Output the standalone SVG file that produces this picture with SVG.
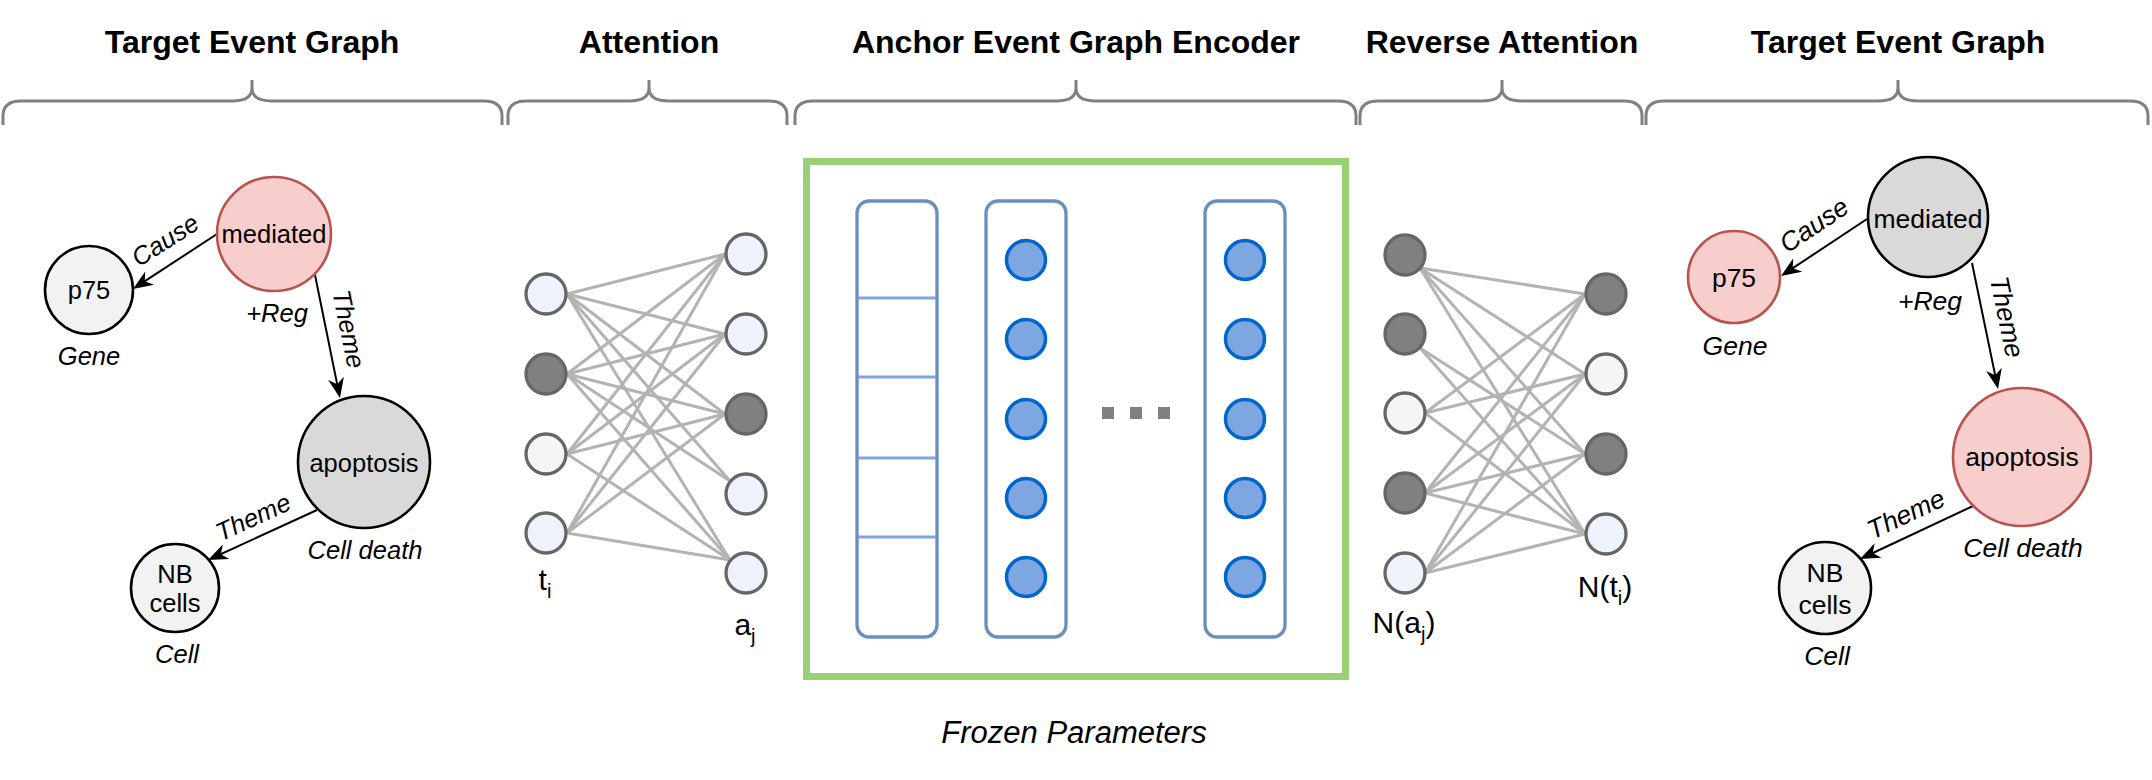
<svg xmlns="http://www.w3.org/2000/svg" width="2152" height="780" viewBox="0 0 2152 780">
<style>
text{font-family:"Liberation Sans",Arial,sans-serif;fill:#000}
.title{font-size:32px;font-weight:bold;text-anchor:middle}
.lbl{font-size:25.5px;text-anchor:middle}
.it{font-size:25.5px;font-style:italic;text-anchor:middle}
#right-graph-edges text,#r-mediated text,#r-p75 text,#r-apoptosis text,#r-nbcells text{font-size:26.5px}
.net{font-size:30px;text-anchor:middle}
.brace{fill:none;stroke:#808080;stroke-width:3}
.gn{stroke:#000;stroke-width:2.6}
.pink{fill:#f8cecc;stroke:#b85450;stroke-width:2.6}
.edge{fill:none;stroke:#000;stroke-width:2;marker-end:url(#arr)}
.nl{stroke:#b3b3b3;stroke-width:3;fill:none}
.nn{stroke:#666;stroke-width:3.3}
.lb{fill:#eef3fb}
.dk{fill:#808080}
.lg{fill:#f5f5f5}
.col{fill:#fff;stroke:#6c8ebf;stroke-width:3.3}
.div{stroke:#7ea6e0;stroke-width:3}
.neu{fill:#7ea6e0;stroke:#0066cc;stroke-width:3.5}
</style>
<defs>
<marker id="arr" viewBox="0 0 20 16" refX="14" refY="8" markerWidth="20" markerHeight="16" markerUnits="userSpaceOnUse" orient="auto">
<path d="M0,0 L20,8 L0,16 L6,8 Z" fill="#000"/>
</marker>
</defs>
<rect width="2152" height="780" fill="#fff"/>

<g id="headers">
<text class="title" x="252" y="53">Target Event Graph</text>
<text class="title" x="649" y="53">Attention</text>
<text class="title" x="1076" y="53">Anchor Event Graph Encoder</text>
<text class="title" x="1502" y="53">Reverse Attention</text>
<text class="title" x="1898" y="53">Target Event Graph</text>
<path class="brace" d="M3,125 V116 Q3,101 21,101 H232 Q252,101 252,88 V80 M252,88 Q252,101 272,101 H484 Q502,101 502,116 V125"/>
<path class="brace" d="M508,125 V116 Q508,101 526,101 H629 Q649,101 649,88 V80 M649,88 Q649,101 669,101 H769 Q787,101 787,116 V125"/>
<path class="brace" d="M795,125 V116 Q795,101 813,101 H1056 Q1076,101 1076,88 V80 M1076,88 Q1076,101 1096,101 H1338 Q1356,101 1356,116 V125"/>
<path class="brace" d="M1360,125 V116 Q1360,101 1378,101 H1482 Q1502,101 1502,88 V80 M1502,88 Q1502,101 1522,101 H1624 Q1642,101 1642,116 V125"/>
<path class="brace" d="M1646,125 V116 Q1646,101 1664,101 H1878 Q1898,101 1898,88 V80 M1898,88 Q1898,101 1918,101 H2130 Q2148,101 2148,116 V125"/>
</g>

<!-- Left target event graph -->
<g id="left-graph-edges">
<path class="edge" d="M217,234 L138,285.7"/>
<path class="edge" d="M315,275 L338.8,392.1"/>
<path class="edge" d="M317,510 L213.5,557.5"/>
<text class="it" transform="translate(165,240) rotate(-32.7)" x="0" y="9">Cause</text>
<text class="it" transform="translate(349,329) rotate(78.5)" x="0" y="9">Theme</text>
<text class="it" transform="translate(253,517) rotate(-24.6)" x="0" y="9">Theme</text>
</g>
<g id="l-mediated">
<circle class="pink" cx="274" cy="234" r="57"/>
<text class="lbl" x="274" y="243">mediated</text>
<text class="it" x="277" y="322">+Reg</text>
</g>
<g id="l-p75">
<circle class="gn" cx="89" cy="290" r="44" fill="#f2f2f2"/>
<text class="lbl" x="89" y="299">p75</text>
<text class="it" x="89" y="365">Gene</text>
</g>
<g id="l-apoptosis">
<circle class="gn" cx="364" cy="462" r="66" fill="#d9d9d9"/>
<text class="lbl" x="364" y="472">apoptosis</text>
<text class="it" x="365" y="559">Cell death</text>
</g>
<g id="l-nbcells">
<circle class="gn" cx="175" cy="588" r="44" fill="#f2f2f2"/>
<text class="lbl" x="175" y="583">NB</text>
<text class="lbl" x="175" y="612">cells</text>
<text class="it" x="177" y="663">Cell</text>
</g>

<!-- Attention -->
<g id="attention-links">
<line class="nl" x1="567" y1="294" x2="725" y2="254"/>
<line class="nl" x1="567" y1="294" x2="725" y2="334"/>
<line class="nl" x1="567" y1="294" x2="725" y2="414"/>
<line class="nl" x1="567" y1="294" x2="730" y2="481"/>
<line class="nl" x1="567" y1="294" x2="730" y2="560"/>
<line class="nl" x1="567" y1="374" x2="725" y2="254"/>
<line class="nl" x1="567" y1="374" x2="725" y2="334"/>
<line class="nl" x1="567" y1="374" x2="725" y2="414"/>
<line class="nl" x1="567" y1="374" x2="730" y2="481"/>
<line class="nl" x1="567" y1="374" x2="730" y2="560"/>
<line class="nl" x1="567" y1="454" x2="725" y2="254"/>
<line class="nl" x1="567" y1="454" x2="725" y2="334"/>
<line class="nl" x1="567" y1="454" x2="725" y2="414"/>
<line class="nl" x1="567" y1="454" x2="730" y2="560"/>
<line class="nl" x1="567" y1="533" x2="725" y2="254"/>
<line class="nl" x1="567" y1="533" x2="725" y2="334"/>
<line class="nl" x1="567" y1="533" x2="725" y2="414"/>
<line class="nl" x1="567" y1="533" x2="730" y2="560"/>
</g>
<g id="attention-nodes">
<circle class="nn lb" cx="546" cy="294" r="20"/>
<circle class="nn dk" cx="546" cy="374" r="20"/>
<circle class="nn lg" cx="546" cy="454" r="20"/>
<circle class="nn lb" cx="546" cy="533" r="20"/>
<circle class="nn lb" cx="746" cy="254" r="20"/>
<circle class="nn lb" cx="746" cy="334" r="20"/>
<circle class="nn dk" cx="746" cy="414" r="20"/>
<circle class="nn lb" cx="746" cy="494" r="20"/>
<circle class="nn lb" cx="746" cy="573" r="20"/>
<text class="net" x="545" y="590">t<tspan font-size="20" dy="8">i</tspan></text>
<text class="net" x="745" y="635">a<tspan font-size="20" dy="8">j</tspan></text>
</g>

<!-- Encoder -->
<g id="encoder">
<rect x="806.5" y="161.5" width="539" height="515" fill="none" stroke="#97d077" stroke-width="7"/>
<rect class="col" x="857" y="201" width="80" height="436" rx="12"/>
<line class="div" x1="858" y1="298" x2="936" y2="298"/>
<line class="div" x1="858" y1="377" x2="936" y2="377"/>
<line class="div" x1="858" y1="458" x2="936" y2="458"/>
<line class="div" x1="858" y1="537" x2="936" y2="537"/>
<rect class="col" x="986" y="201" width="80" height="436" rx="12"/>
<circle class="neu" cx="1026" cy="260" r="19.5"/>
<circle class="neu" cx="1026" cy="339" r="19.5"/>
<circle class="neu" cx="1026" cy="419" r="19.5"/>
<circle class="neu" cx="1026" cy="498" r="19.5"/>
<circle class="neu" cx="1026" cy="577" r="19.5"/>
<rect x="1102" y="407" width="12" height="12" fill="#808080"/>
<rect x="1130" y="407" width="12" height="12" fill="#808080"/>
<rect x="1158" y="407" width="12" height="12" fill="#808080"/>
<rect class="col" x="1205" y="201" width="80" height="436" rx="12"/>
<circle class="neu" cx="1245" cy="260" r="19.5"/>
<circle class="neu" cx="1245" cy="339" r="19.5"/>
<circle class="neu" cx="1245" cy="419" r="19.5"/>
<circle class="neu" cx="1245" cy="498" r="19.5"/>
<circle class="neu" cx="1245" cy="577" r="19.5"/>
<text class="it" x="1074" y="743" style="font-size:31px">Frozen Parameters</text>
</g>

<!-- Reverse attention -->
<g id="reverse-links">
<line class="nl" x1="1420" y1="268" x2="1585" y2="294"/>
<line class="nl" x1="1420" y1="268" x2="1585" y2="374"/>
<line class="nl" x1="1420" y1="268" x2="1585" y2="454"/>
<line class="nl" x1="1420" y1="268" x2="1585" y2="534"/>
<line class="nl" x1="1420" y1="348" x2="1585" y2="454"/>
<line class="nl" x1="1420" y1="348" x2="1585" y2="534"/>
<line class="nl" x1="1425" y1="413" x2="1585" y2="294"/>
<line class="nl" x1="1425" y1="413" x2="1585" y2="374"/>
<line class="nl" x1="1425" y1="413" x2="1585" y2="534"/>
<line class="nl" x1="1425" y1="493" x2="1585" y2="294"/>
<line class="nl" x1="1425" y1="493" x2="1585" y2="374"/>
<line class="nl" x1="1425" y1="493" x2="1585" y2="454"/>
<line class="nl" x1="1425" y1="493" x2="1585" y2="534"/>
<line class="nl" x1="1425" y1="573" x2="1585" y2="294"/>
<line class="nl" x1="1425" y1="573" x2="1585" y2="374"/>
<line class="nl" x1="1425" y1="573" x2="1585" y2="454"/>
<line class="nl" x1="1425" y1="573" x2="1585" y2="534"/>
</g>
<g id="reverse-nodes">
<circle class="nn dk" cx="1405" cy="255" r="20"/>
<circle class="nn dk" cx="1405" cy="334" r="20"/>
<circle class="nn lg" cx="1405" cy="413" r="20"/>
<circle class="nn dk" cx="1405" cy="493" r="20"/>
<circle class="nn lb" cx="1405" cy="573" r="20"/>
<circle class="nn dk" cx="1606" cy="294" r="20"/>
<circle class="nn lg" cx="1606" cy="374" r="20"/>
<circle class="nn dk" cx="1606" cy="454" r="20"/>
<circle class="nn lb" cx="1606" cy="534" r="20"/>
<text class="net" x="1404" y="633">N(a<tspan font-size="20" dy="8">j</tspan><tspan dy="-8">)</tspan></text>
<text class="net" x="1605" y="597">N(t<tspan font-size="20" dy="8">i</tspan><tspan dy="-8">)</tspan></text>
</g>

<!-- Right target event graph -->
<g id="right-graph-edges">
<path class="edge" d="M1867,219 L1786,272.7"/>
<path class="edge" d="M1972,263 L1996.8,383.1"/>
<path class="edge" d="M1973,506 L1865.4,556.5"/>
<text class="it" transform="translate(1814,225) rotate(-33.7)" x="0" y="9">Cause</text>
<text class="it" transform="translate(2007,317) rotate(78.3)" x="0" y="9">Theme</text>
<text class="it" transform="translate(1906,514) rotate(-25.1)" x="0" y="9">Theme</text>
</g>
<g id="r-mediated">
<circle class="gn" cx="1928" cy="217" r="60" fill="#d9d9d9"/>
<text class="lbl" x="1928" y="228">mediated</text>
<text class="it" x="1930" y="310">+Reg</text>
</g>
<g id="r-p75">
<circle class="pink" cx="1734" cy="277" r="46"/>
<text class="lbl" x="1734" y="287">p75</text>
<text class="it" x="1735" y="355">Gene</text>
</g>
<g id="r-apoptosis">
<circle class="pink" cx="2022" cy="457" r="69"/>
<text class="lbl" x="2022" y="466">apoptosis</text>
<text class="it" x="2023" y="557">Cell death</text>
</g>
<g id="r-nbcells">
<circle class="gn" cx="1825" cy="588" r="46" fill="#f2f2f2"/>
<text class="lbl" x="1825" y="582">NB</text>
<text class="lbl" x="1825" y="614">cells</text>
<text class="it" x="1827" y="665">Cell</text>
</g>
</svg>
